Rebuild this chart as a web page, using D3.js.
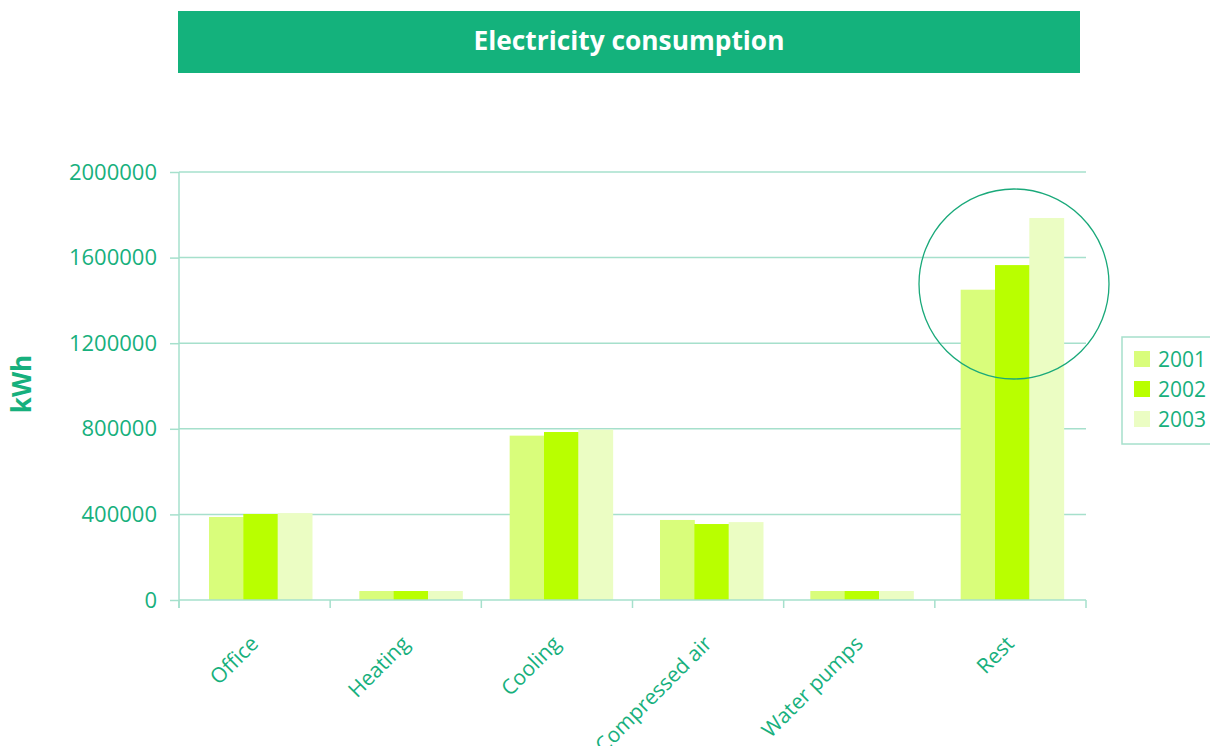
<!DOCTYPE html>
<html><head><meta charset="utf-8">
<script src="https://cdn.jsdelivr.net/npm/d3@7/dist/d3.min.js"></script>
<style>body{margin:0;background:#fff}svg{display:block;font-family:"Open Sans",sans-serif}</style>
</head><body><svg id="c" width="1210" height="746"></svg>
<script>
const categories = ["Office","Heating","Cooling","Compressed air","Water pumps","Rest"];
const years = ["2001","2002","2003"];
const v2001 = [388000, 42000, 768000, 374000, 42000, 1450000];
const v2002 = [402000, 42000, 785000, 355000, 42000, 1565000];
const v2003 = [406000, 42000, 796000, 364000, 42000, 1785000];
const yTicks = [0, 400000, 800000, 1200000, 1600000, 2000000];
const colors = ["#d9fd7b", "#b9ff00", "#ebfdc3"];
const series = [v2001, v2002, v2003];

const svg = d3.select("#c");
const L = 179, R = 1086, T = 172, B = 600;
const teal = "#17b07d", grid = "#a6e0cc";

// title bar
svg.append("rect").attr("x",178).attr("y",11).attr("width",902).attr("height",62).attr("fill","#14b27c");
svg.append("text").attr("x",629).attr("y",50).attr("text-anchor","middle").attr("fill","#fff")
  .attr("font-weight","bold").attr("font-size",26.3).text("Electricity consumption");

const x = d3.scaleBand().domain(categories).range([L,R]).padding(0);
const xb = d3.scaleBand().domain(categories).range([L,R-5]).padding(0);
const y = d3.scaleLinear().domain([0,2000000]).range([B,T]);
const xs = d3.scaleBand().domain(years).range([30,133]).padding(0);

// gridlines
svg.append("g").selectAll("line").data(yTicks.filter(d=>d>0)).join("line")
  .attr("x1",L).attr("x2",R).attr("y1",d=>y(d)).attr("y2",d=>y(d))
  .attr("stroke",grid).attr("stroke-width",1.5);

// bars
const groups = svg.append("g").selectAll("g").data(categories).join("g")
  .attr("transform",c=>`translate(${xb(c)},0)`);
groups.selectAll("rect").data((c,i)=>years.map((yr,j)=>({yr,j,v:series[j][i]}))).join("rect")
  .attr("x",d=>xs(d.yr)).attr("width",xs.bandwidth()+0.5)
  .attr("y",d=>y(d.v)).attr("height",d=>B-y(d.v)).attr("fill",d=>colors[d.j]);

// y axis
const ya = svg.append("g").attr("transform",`translate(${L},0)`)
  .call(d3.axisLeft(y).tickValues(yTicks).tickSize(9).tickPadding(13).tickFormat(d3.format("d")));
ya.select(".domain").remove();
ya.append("line").attr("x1",0).attr("x2",0).attr("y1",T).attr("y2",B+8).attr("stroke",grid).attr("stroke-width",1.5);
ya.selectAll(".tick line").attr("stroke",grid).attr("stroke-width",1.5);
ya.selectAll(".tick text").attr("fill",teal).attr("font-size",22).attr("font-family","Open Sans");

// x axis
const xa = svg.append("g").attr("transform",`translate(0,${B})`);
xa.append("line").attr("x1",L).attr("x2",R).attr("y1",0).attr("y2",0).attr("stroke",grid).attr("stroke-width",1.5);
const bounds = categories.map(c=>x(c)).concat([R]);
xa.selectAll("line.t").data(bounds).join("line").attr("class","t")
  .attr("x1",d=>d).attr("x2",d=>d).attr("y1",0).attr("y2",8).attr("stroke",grid).attr("stroke-width",1.5);
xa.selectAll("text").data(categories).join("text")
  .attr("transform",c=>`translate(${x(c)+x.bandwidth()/2+5},${45}) rotate(-45)`)
  .attr("text-anchor","end").attr("fill",teal).attr("font-size",21).text(c=>c);

// y label
svg.append("text").attr("transform","translate(31,384) rotate(-90)").attr("text-anchor","middle")
  .attr("fill",teal).attr("font-weight","bold").attr("font-size",26).text("kWh");

// highlight circle
svg.append("circle").attr("cx",1014).attr("cy",284).attr("r",95).attr("fill","none")
  .attr("stroke","#1aa97a").attr("stroke-width",1.3);

// legend
const lg = svg.append("g");
lg.append("rect").attr("x",1122).attr("y",337).attr("width",100).attr("height",107)
  .attr("fill","#fff").attr("stroke",grid).attr("stroke-width",1.5);
const li = lg.selectAll("g").data(years).join("g").attr("transform",(d,i)=>`translate(1134,${351+i*30})`);
li.append("rect").attr("width",16).attr("height",16).attr("fill",(d,i)=>colors[i]);
li.append("text").attr("x",24).attr("y",16).attr("fill",teal).attr("font-size",21).text(d=>d);
</script></body></html>
